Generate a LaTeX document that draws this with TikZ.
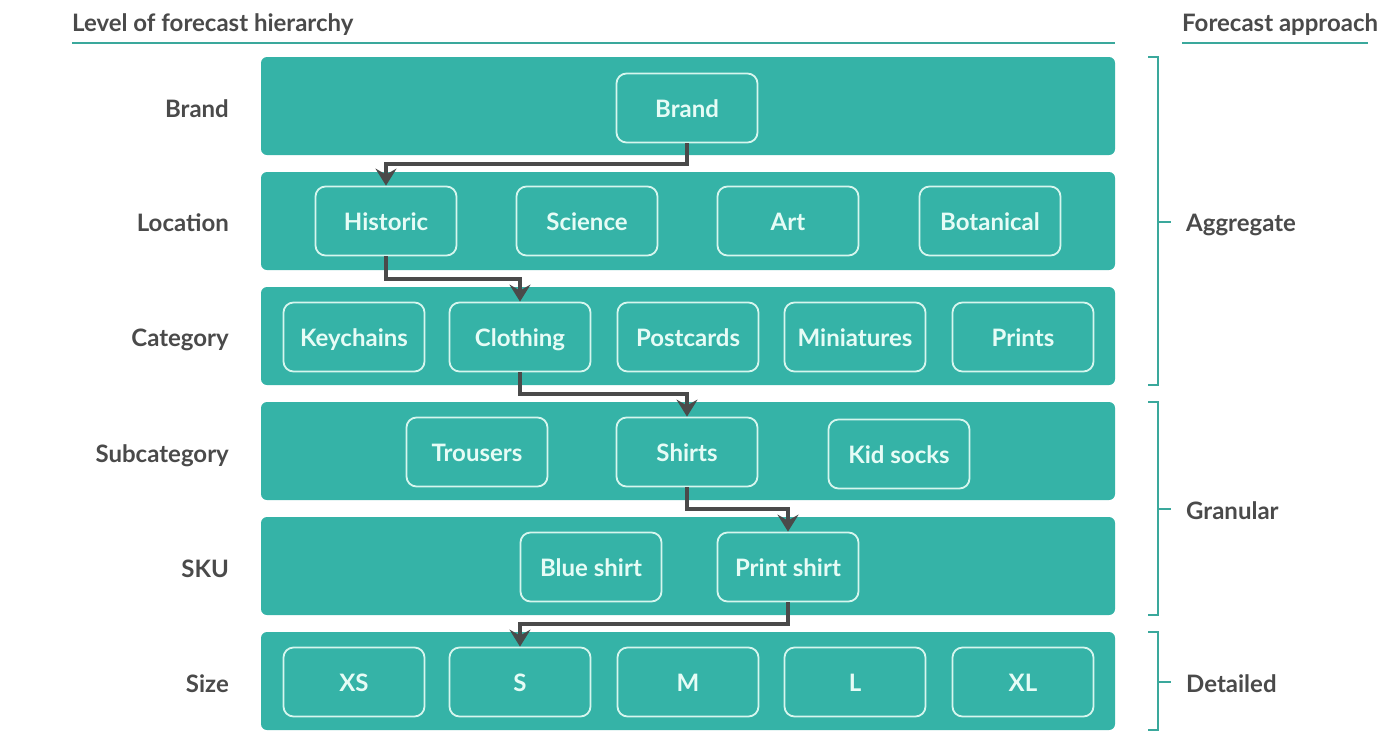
\documentclass[tikz,border=0pt]{standalone}
\usepackage{fontspec}
\setmainfont{Lato}
\usepackage{xcolor}
\usetikzlibrary{arrows.meta, calc, positioning}

\definecolor{bandteal}{HTML}{35B3A7}
\definecolor{ruleteal}{HTML}{3AA89C}
\definecolor{boxline}{HTML}{D6F6EE}
\definecolor{boxtext}{HTML}{E6FCF6}
\definecolor{darktext}{HTML}{4A4A4A}

\tikzset{
	txt/.style = {font = \fontsize{24}{28}\selectfont\bfseries, text height = 17.3pt, text depth = 0pt},
	band/.style = {fill = bandteal, rounded corners = 6pt, minimum width = 854pt, minimum height = 98pt, inner sep = 0pt},
	item/.style = {txt, draw = boxline, line width = 1.8pt, rounded corners = 10pt, minimum width = 141pt, minimum height = 69pt, inner sep = 0pt, text = boxtext},
	level/.style = {txt, anchor = east, text = darktext, inner sep = 0pt},
	approach/.style = {txt, anchor = west, text = darktext, inner sep = 0pt},
	heading/.style = {txt, anchor = west, text = darktext, inner sep = 0pt},
	flow/.style = {draw = darktext, line width = 4pt, -{Stealth[length = 17pt, width = 21pt, inset = 6pt]}},
	bracket/.style = {draw = ruleteal, line width = 1.3pt}
}

\begin{document}
\begin{tikzpicture}[x = 1pt, y = -1pt]
		\useasboundingbox (0,0) rectangle (1400,732);

		%headings
		\node [heading] (hlevel) at (72,23) {Level of forecast hierarchy};
		\node [heading] (happroach) at (1182,23) {Forecast approach};
		\draw [ruleteal, line width = 1.3pt] (72,43) -- (1115,43);
		\draw [ruleteal, line width = 1.3pt] (1182,43) -- (1368,43);

		%bands
		\node [band] (brandrow) at (688,106) {};
		\node [band] (locrow) at (688,221) {};
		\node [band] (catrow) at (688,336) {};
		\node [band] (subrow) at (688,451) {};
		\node [band] (skurow) at (688,566) {};
		\node [band] (sizerow) at (688,681) {};

		%level names
		\node [level] (lbrand) at (229,109) {Brand};
		\node [level] (lloc) at (229,223) {Location};
		\node [level] (lcat) at (229,338) {Category};
		\node [level] (lsub) at (229,454) {Subcategory};
		\node [level] (lsku) at (229,569) {SKU};
		\node [level] (lsize) at (229,684) {Size};

		%brand
		\node [item] (brand) at (687,108) {\raisebox{-1pt}{Brand}};

		%location
		\node [item] (historic) at (386,221) {\raisebox{-1pt}{Historic}};
		\node [item] (science) at (587,221) {\raisebox{-1pt}{Science}};
		\node [item] (art) at (788,221) {\raisebox{-1pt}{Art}};
		\node [item] (botanical) at (990,221) {\raisebox{-1pt}{Botanical}};

		%category
		\node [item] (keychains) at (354,337) {\raisebox{-1pt}{Keychains}};
		\node [item] (clothing) at (520,337) {\raisebox{-1pt}{Clothing}};
		\node [item] (postcards) at (688,337) {\raisebox{-1pt}{Postcards}};
		\node [item] (miniatures) at (855,337) {\raisebox{-1pt}{Miniatures}};
		\node [item] (prints) at (1023,337) {\raisebox{-1pt}{Prints}};

		%subcategory
		\node [item] (trousers) at (477,452) {\raisebox{-1pt}{Trousers}};
		\node [item] (shirts) at (687,452) {\raisebox{-1pt}{Shirts}};
		\node [item] (kidsocks) at (899,454) {\raisebox{-1pt}{Kid socks}};

		%sku
		\node [item] (blueshirt) at (591,567) {\raisebox{-1pt}{Blue shirt}};
		\node [item] (printshirt) at (788,567) {\raisebox{-1pt}{Print shirt}};

		%size
		\node [item] (xs) at (354,682) {\raisebox{-1pt}{XS}};
		\node [item] (s) at (520,682) {\raisebox{-1pt}{S}};
		\node [item] (m) at (688,682) {\raisebox{-1pt}{M}};
		\node [item] (l) at (855,682) {\raisebox{-1pt}{L}};
		\node [item] (xl) at (1023,682) {\raisebox{-1pt}{XL}};

		%path through the hierarchy
		\coordinate (gap1) at ($(brandrow.south)!0.5!(locrow.north)$);
		\coordinate (gap2) at ($(locrow.south)!0.5!(catrow.north)$);
		\coordinate (gap3) at ($(catrow.south)!0.5!(subrow.north)$);
		\coordinate (gap4) at ($(subrow.south)!0.5!(skurow.north)$);
		\coordinate (gap5) at ($(skurow.south)!0.5!(sizerow.north)$);

		\draw [flow] (brand.south) -- (brand.south |- gap1) -| (historic.north);
		\draw [flow] (historic.south) -- (historic.south |- gap2) -| (clothing.north);
		\draw [flow] (clothing.south) -- (clothing.south |- gap3) -| (shirts.north);
		\draw [flow] (shirts.south) -- (shirts.south |- gap4) -| (printshirt.north);
		\draw [flow] (printshirt.south) -- (printshirt.south |- gap5) -| (s.north);

		%brackets
		\draw [bracket] (1148,57) -- (1158,57) -- (1158,385) -- (1148,385);
		\draw [bracket] (1158,222) -- (1171,222);
		\draw [bracket] (1148,402) -- (1158,402) -- (1158,615) -- (1148,615);
		\draw [bracket] (1158,509) -- (1171,509);
		\draw [bracket] (1148,632) -- (1158,632) -- (1158,730) -- (1148,730);
		\draw [bracket] (1158,682) -- (1171,682);

		\node [approach] (aggregate) at (1186,223) {Aggregate};
		\node [approach] (granular) at (1186,511) {Granular};
		\node [approach] (detailed) at (1186,684) {Detailed};
	\end{tikzpicture}
\end{document}
